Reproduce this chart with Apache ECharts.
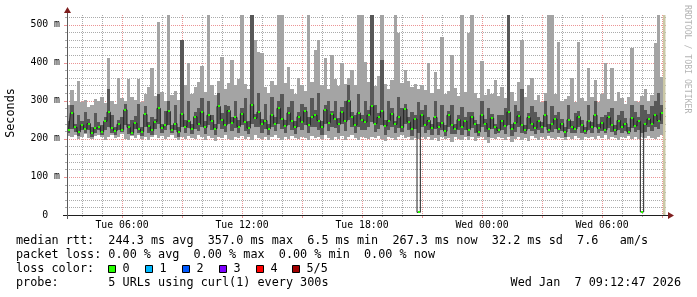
<!DOCTYPE html>
<html><head><meta charset="utf-8">
<script src="https://cdn.jsdelivr.net/npm/echarts@6/dist/echarts.min.js"></script>
<style>html,body{margin:0;padding:0;background:#fff}#c{width:697px;height:297px}</style>
</head><body><div id="c"></div>
<script>
// time of first 10-minute step centre, minutes after Tue 00:00
const START = 200;
const STEP = 10;
const NOW = 1986;

// light smoke band (min .. max ping), ms
const lo = [208,204,210,200,206,212,203,199,207,211, 204,198,206,210,201,205,212,200,196,207,
203,209,200,205,198,204,210,202,207,199, 205,211,202,197,206,200,208,203,199,210,
204,198,207,201,195,206,203,209,200,196, 205,201,208,199,204,197,210,203,200,206,
198,204,209,201,196,205,200,207,203,199, 206,202,197,208,201,204,199,210,203,196,
205,200,207,198,204,209,201,196,206,202, 199,205,203,208,200,195,206,202,198,204,
209,201,205,197,203,200,206,199,204,196, 202,194,206,199,203,192,205,200,197,204,
198,206,193,201,204,197,190,203,199,206, 201,196,204,192,200,205,198,203,195,207,
202,198,205,200,207,203,199,206,201,197, 205,200,208,203,198,206,201,204,199,207,
203,209,200,205,201,198,206,202,208,200, 204,199,206,201,208,203,200,205,210];
const hi = [288,328,300,352,296,302,284,290,305,298, 310,294,412,300,292,360,306,298,357,310,
302,357,296,318,336,386,312,507,322,300, 525,314,326,302,460,340,400,318,336,350,
390,324,525,340,316,352,415,330,346,407, 341,357,525,344,330,525,460,428,425,336,
320,352,340,525,525,346,389,330,318,360, 342,326,525,350,433,460,340,412,330,420,
356,338,399,344,360,381,340,525,525,402, 350,525,338,366,525,344,330,354,525,478,
346,381,352,336,344,330,340,328,399,320, 376,330,467,318,326,420,334,312,525,322,
478,525,320,306,404,316,330,318,354,312, 336,306,525,322,300,349,460,310,340,359,
302,314,296,320,525,525,318,454,300,304, 312,359,296,454,306,300,386,310,355,296,
318,399,304,386,298,323,306,292,310,438, 300,296,312,330,298,316,451,525,362];
// dark smoke band (inner pings), ms
const dlo = [214,226,218,208,222,216,224,206,214,224, 210,222,232,216,210,224,218,236,212,210,
226,216,208,230,214,210,226,238,214,222, 236,216,222,206,230,214,228,212,226,220,
232,212,236,222,210,240,226,218,238,220, 228,214,236,220,212,238,230,232,216,226,
210,232,220,240,226,214,236,222,212,230, 224,236,214,230,232,222,210,240,220,232,
228,216,238,220,250,230,214,232,224,222, 232,244,218,226,236,210,224,230,214,228,
218,238,222,208,226,216,232,214,222,210, 226,210,222,208,232,212,212,224,210,222,
208,228,214,208,230,218,206,226,212,214, 224,212,236,208,218,230,214,212,226,220,
212,222,214,232,214,218,226,214,220,206, 226,214,216,230,216,212,222,214,232,216,
220,216,228,218,210,224,216,220,212,228, 218,222,216,218,230,220,232,226,238];
const dhi = [248,290,240,262,246,270,252,232,268,244, 236,258,330,262,230,250,256,292,240,250,
260,292,232,286,244,256,252,318,240,272, 300,236,290,232,460,250,300,240,270,282,
306,246,300,262,240,320,268,290,286,256, 298,250,280,306,246,525,266,320,252,292,
240,310,256,300,318,250,284,300,246,270, 292,284,256,306,276,320,248,290,298,274,
300,254,284,300,340,270,262,318,262,300, 276,525,290,268,407,250,300,282,246,310,
280,292,256,270,262,296,276,290,258,240, 300,244,290,236,272,290,240,262,284,256,
270,270,250,240,300,252,280,266,240,262, 262,282,525,240,290,272,330,236,268,286,
270,258,244,300,238,286,262,270,252,232, 290,246,268,272,250,232,290,244,300,240,
256,262,270,280,236,262,274,254,232,290, 270,258,290,276,264,286,300,320,290];
// median rtt, ms
const med = [222,268,230,218,236,226,240,214,228,232, 219,246,270,228,221,238,224,276,230,216,
241,226,219,264,233,222,245,280,228,236, 272,224,240,218,265,232,246,226,258,238,
270,230,262,248,227,285,250,236,274,242, 256,232,266,244,228,290,254,270,238,248,
226,262,240,280,252,234,268,246,230,258, 244,272,236,256,262,248,230,276,242,264,
252,238,270,246,300,258,236,268,250,244, 262,286,240,256,272,234,248,266,238,258,
230,278,244,226,252,7,262,236,248,228, 256,230,242,220,262,236,226,250,232,246,
224,258,238,218,262,240,226,254,230,222, 248,234,270,226,242,260,236,222,256,240,
228,246,232,262,224,238,252,226,240,218, 250,232,226,258,236,220,246,230,262,228,
242,224,256,236,222,248,230,240,218,254, 234,246,8,238,252,240,262,248,268];

const xLabelValues = [360, 720, 1080, 1440, 1800];
const yLabelValues = [0, 100, 200, 300, 400, 500];
const lossLabels = ['0', '1', '2', '3', '4', '5/5'];
const lossColors = ['#26ff00', '#00b8ff', '#0059ff', '#7e00ff', '#ff0000', '#a00000'];
const statLines = [
  'median rtt:  244.3 ms avg  357.0 ms max  6.5 ms min  267.3 ms now  32.2 ms sd  7.6   am/s',
  'packet loss: 0.00 % avg  0.00 % max  0.00 % min  0.00 % now',
  'loss color:',
  'probe:       5 URLs using curl(1) every 300s'
];
const dateText = 'Wed Jan  7 09:12:47 2026';
const yTitle = 'Seconds';
const watermark = 'RRDTOOL / TOBI OETIKER';

const XMIN = 195, XMAX = 1995, YMAX = 525;
const MONO = '"DejaVu Sans Mono", monospace';
const MINOR = 'rgba(143,143,143,0.75)';
const MAJOR = 'rgba(222,79,79,0.6)';
const t = i => START + STEP * i;

function bandSeries(bottom, top, color, z) {
  return {
    type: 'custom', z: z, silent: true, animation: false,
    data: bottom.map((v, i) => [t(i), v, top[i]]),
    encode: { x: 0, y: [1, 2] },
    renderItem(params, api) {
      const c = api.value(0);
      const a = api.coord([c - STEP / 2, api.value(2)]);
      const b = api.coord([c + STEP / 2, api.value(1)]);
      const x0 = Math.round(a[0]), x1 = Math.round(b[0]);
      const y0 = Math.round(a[1]), y1 = Math.round(b[1]);
      return { type: 'rect', shape: { x: x0, y: y0, width: x1 - x0, height: Math.max(1, y1 - y0) }, style: { fill: color } };
    }
  };
}

const gridItems = [];
for (let m = 240; m <= 1980; m += 60) gridItems.push([m, 0, 0]);
for (let v = 20; v <= 520; v += 20) gridItems.push([XMIN, v, 1]);

const gridSeries = {
  type: 'custom', z: 1, silent: true, animation: false,
  data: gridItems, encode: { x: 0, y: 1 },
  renderItem(params, api) {
    const kind = api.value(2);
    if (kind === 0) {
      const m = api.value(0);
      const major = m % 180 === 0;
      const color = major ? MAJOR : MINOR;
      const a = api.coord([m, YMAX]), b = api.coord([m, 0]);
      const x = Math.round(a[0]) + 0.5, yb = Math.round(b[1]);
      return { type: 'group', children: [
        { type: 'line', shape: { x1: x, y1: Math.round(a[1]), x2: x, y2: yb }, style: { stroke: color, lineWidth: 1, lineDash: [1, 1] } },
        { type: 'line', shape: { x1: x, y1: yb, x2: x, y2: yb + (major ? 3 : 2) }, style: { stroke: color, lineWidth: 1 } }
      ]};
    } else {
      const v = api.value(1);
      const major = v % 100 === 0;
      const color = major ? MAJOR : MINOR;
      const a = api.coord([XMIN, v]), b = api.coord([XMAX, v]);
      const y = Math.round(a[1]) + 0.5, xl = Math.round(a[0]);
      return { type: 'group', children: [
        { type: 'line', shape: { x1: xl, y1: y, x2: Math.round(b[0]), y2: y }, style: { stroke: color, lineWidth: 1, lineDash: [1, 1] } },
        { type: 'line', shape: { x1: xl - (major ? 3 : 2), y1: y, x2: xl, y2: y }, style: { stroke: color, lineWidth: 1 } }
      ]};
    }
  }
};

const nowSeries = {
  type: 'custom', z: 9, silent: true, animation: false,
  data: [[NOW, 0]], encode: { x: 0, y: 1 },
  renderItem(params, api) {
    const a = api.coord([api.value(0), YMAX]), b = api.coord([api.value(0), 0]);
    return { type: 'rect', shape: { x: Math.round(a[0]) - 1, y: Math.round(a[1]), width: 2.5, height: Math.round(b[1] - a[1]) }, style: { fill: '#cbc8a6' } };
  }
};

const medianMarks = {
  type: 'custom', z: 6, silent: true, animation: false,
  data: med.map((v, i) => [t(i), v]), encode: { x: 0, y: 1 },
  renderItem(params, api) {
    const p = api.coord([api.value(0), api.value(1)]);
    const x0 = Math.round(p[0] - 1);
    const y = Math.round(p[1]);
    return { type: 'rect', shape: { x: x0, y: y - 1, width: 2, height: 2 }, style: { fill: lossColors[0] } };
  }
};

const medianLine = {
  type: 'line', z: 5, silent: true, animation: false, step: 'middle',
  symbol: 'none', showSymbol: false,
  data: med.map((v, i) => [t(i), v]),
  lineStyle: { color: '#202020', width: 1 }
};

function hhmm(v) {
  const day = v < 1440 ? 'Tue' : 'Wed';
  const m = v % 1440;
  const h = Math.floor(m / 60), mi = m % 60;
  return day + ' ' + String(h).padStart(2, '0') + ':' + String(mi).padStart(2, '0');
}

const graphics = [];
const txt = (x, y, text, opts) => graphics.push(Object.assign({ type: 'text', x: x, y: y, silent: true,
  style: Object.assign({ text: text, font: '11.8px ' + MONO, fill: '#000', align: 'left', verticalAlign: 'middle' }, (opts && opts.style) || {}) },
  (opts && opts.el) || {}));

// axis extensions and arrows
graphics.push({ type: 'line', silent: true, shape: { x1: 63, y1: 215.5, x2: 669, y2: 215.5 }, style: { stroke: '#1f1f1f', lineWidth: 1 }, z: 30 });
graphics.push({ type: 'line', silent: true, shape: { x1: 67.5, y1: 10, x2: 67.5, y2: 219 }, style: { stroke: '#5a5a5a', lineWidth: 1 }, z: 30 });
graphics.push({ type: 'polygon', silent: true, shape: { points: [[668, 212], [674, 215.5], [668, 219]] }, style: { fill: '#7f1f1f' }, z: 31 });
graphics.push({ type: 'polygon', silent: true, shape: { points: [[64, 13], [67.5, 7], [71, 13]] }, style: { fill: '#7f1f1f' }, z: 31 });

txt(10.5, 113, yTitle, { el: { rotation: Math.PI / 2 }, style: { align: 'center' } });
txt(687, 5, watermark, { el: { rotation: -Math.PI / 2 }, style: { font: '8.2px ' + MONO, fill: '#b4b4b4' } });

const rowY = [241.3, 255.1, 268.9, 282.7];
statLines.forEach((s, k) => txt(16, rowY[k], s));
txt(681, rowY[3], dateText, { style: { align: 'right' } });
lossLabels.forEach((lab, k) => {
  const bx = Math.round(108.3 + 36.8 * k);
  graphics.push({ type: 'rect', silent: true, shape: { x: bx + 0.5, y: 265.5, width: 7, height: 7 }, style: { fill: lossColors[k], stroke: '#000', lineWidth: 1 } });
  txt(bx + 14.5, rowY[2], lab);
});

const option = {
  animation: false,
  backgroundColor: '#ffffff',
  grid: { left: 67, top: 15, width: 600, height: 200, outerBoundsMode: 'none' },
  xAxis: {
    type: 'value', min: XMIN, max: XMAX, z: 20,
    axisLine: { show: false },
    axisTick: { show: false },
    splitLine: { show: false },
    axisLabel: { customValues: xLabelValues, formatter: hhmm, margin: 5, color: '#000', fontFamily: MONO, fontSize: 9.8 }
  },
  yAxis: {
    type: 'value', min: 0, max: YMAX, z: 20,
    axisLine: { show: false },
    axisTick: { show: false },
    splitLine: { show: false },
    axisLabel: { customValues: yLabelValues, formatter: v => v === 0 ? '0  ' : v + ' m', margin: 7, color: '#000', fontFamily: MONO, fontSize: 9.8 }
  },
  series: [
    gridSeries,
    bandSeries(lo, hi, '#a4a4a4', 2),
    bandSeries(dlo, dhi, '#585858', 3),
    medianLine,
    medianMarks,
    nowSeries
  ],
  graphic: graphics
};

const chart = echarts.init(document.getElementById('c'), null, { renderer: 'canvas', width: 697, height: 297 });
chart.setOption(option);
</script>
</body></html>
